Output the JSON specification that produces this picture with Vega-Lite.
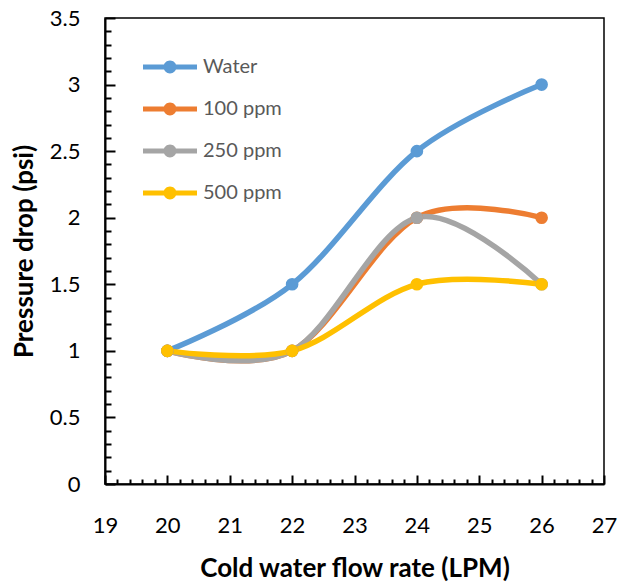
{
  "$schema": "https://vega.github.io/schema/vega-lite/v6.json",
  "width": 499,
  "height": 466,
  "autosize": {"type": "none"},
  "padding": {"left": 105, "top": 18, "right": 33, "bottom": 99},
  "background": "white",
  "config": {
    "view": {"stroke": "black", "strokeWidth": 1.5},
    "font": "Lato",
    "axis": {"grid": false, "domainColor": "black", "domainWidth": 2, "tickColor": "black", "tickWidth": 2, "labelColor": "black", "labelFont": "Lato", "labelFontSize": 22, "labelOverlap": false, "labelFlush": false, "titleFont": "Lato", "titleFontSize": 26, "titleFontWeight": "bold", "titleColor": "black"},
    "legend": {"orient": "none", "legendX": 38, "legendY": 22, "title": null,
      "symbolType": "M-1,-0.093L1,-0.093L1,0.093L-1,0.093Z M0.24,0A0.24,0.24,0,1,1,-0.24,0A0.24,0.24,0,1,1,0.24,0Z",
      "symbolSize": 2916, "symbolStrokeWidth": 0, "labelFont": "Lato", "labelFontSize": 20, "labelColor": "#595959", "labelOffset": 6, "rowPadding": 5}
  },
  "data": {
    "values": [
      {"flow": 20, "dp": 1, "series": "Water"},
      {"flow": 22, "dp": 1.5, "series": "Water"},
      {"flow": 24, "dp": 2.5, "series": "Water"},
      {"flow": 26, "dp": 3, "series": "Water"},
      {"flow": 20, "dp": 1, "series": "100 ppm"},
      {"flow": 22, "dp": 1, "series": "100 ppm"},
      {"flow": 24, "dp": 2, "series": "100 ppm"},
      {"flow": 26, "dp": 2, "series": "100 ppm"},
      {"flow": 20, "dp": 1, "series": "250 ppm"},
      {"flow": 22, "dp": 1, "series": "250 ppm"},
      {"flow": 24, "dp": 2, "series": "250 ppm"},
      {"flow": 26, "dp": 1.5, "series": "250 ppm"},
      {"flow": 20, "dp": 1, "series": "500 ppm"},
      {"flow": 22, "dp": 1, "series": "500 ppm"},
      {"flow": 24, "dp": 1.5, "series": "500 ppm"},
      {"flow": 26, "dp": 1.5, "series": "500 ppm"}
    ]
  },
  "resolve": {"axis": {"x": "independent", "y": "independent"}},
  "layer": [
    {
      "mark": {"type": "line", "interpolate": "cardinal", "tension": 0, "strokeWidth": 5.5},
      "encoding": {
        "x": {"field": "flow", "type": "quantitative", "scale": {"domain": [19, 27], "nice": false},
          "axis": {"orient": "bottom", "values": [19, 19.2, 19.4, 19.6, 19.8, 20, 20.2, 20.4, 20.6, 20.8, 21, 21.2, 21.4, 21.6, 21.8, 22, 22.2, 22.4, 22.6, 22.8, 23, 23.2, 23.4, 23.6, 23.8, 24, 24.2, 24.4, 24.6, 24.8, 25, 25.2, 25.4, 25.6, 25.8, 26, 26.2, 26.4, 26.6, 26.8, 27],
            "labelExpr": "datum.value % 1 === 0 ? format(datum.value, 'd') : ''", "labelOverlap": false, "labelFlush": false,
            "tickSize": {"condition": {"test": "datum.value % 1 === 0", "value": -9}, "value": -5},
            "labelPadding": 40, "title": "Cold water flow rate (LPM)", "titlePadding": 15}},
        "y": {"field": "dp", "type": "quantitative", "scale": {"domain": [0, 3.5], "nice": false},
          "axis": {"orient": "left", "values": [0, 0.1, 0.2, 0.3, 0.4, 0.5, 0.6, 0.7, 0.8, 0.9, 1, 1.1, 1.2, 1.3, 1.4, 1.5, 1.6, 1.7, 1.8, 1.9, 2, 2.1, 2.2, 2.3, 2.4, 2.5, 2.6, 2.7, 2.8, 2.9, 3, 3.1, 3.2, 3.3, 3.4, 3.5],
            "labelExpr": "(datum.value * 2) % 1 === 0 ? format(datum.value, '~g') : ''", "labelOverlap": false, "labelFlush": false,
            "tickSize": {"condition": {"test": "(datum.value * 2) % 1 === 0", "value": -10}, "value": -6},
            "labelPadding": 35, "title": "Pressure drop (psi)", "titlePadding": 12}},
        "color": {"field": "series", "type": "nominal", "sort": ["Water", "100 ppm", "250 ppm", "500 ppm"],
          "scale": {"domain": ["Water", "100 ppm", "250 ppm", "500 ppm"], "range": ["#5B9BD5", "#ED7D31", "#A5A5A5", "#FFC000"]}}
      }
    },
    {
      "mark": {"type": "point", "filled": true, "size": 160, "opacity": 1},
      "encoding": {
        "x": {"field": "flow", "type": "quantitative", "axis": null},
        "y": {"field": "dp", "type": "quantitative", "axis": null},
        "color": {"field": "series", "type": "nominal", "sort": ["Water", "100 ppm", "250 ppm", "500 ppm"]}
      }
    }
  ]
}
